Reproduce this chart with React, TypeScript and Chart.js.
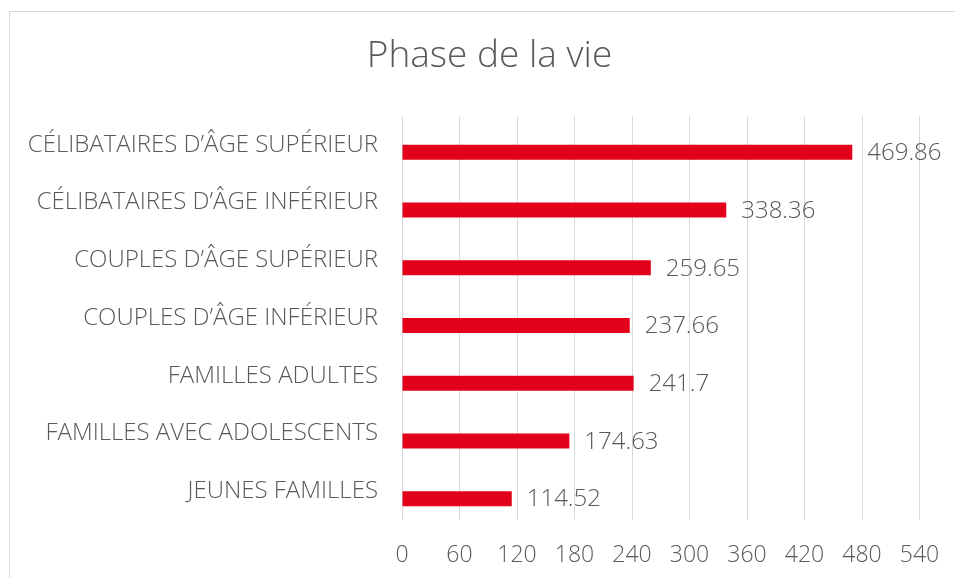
import React, { useEffect, useRef } from "react";
import { Chart, registerables } from "chart.js";

Chart.register(...registerables);

const chartTitle = "Phase de la vie";
const categories = [
  "CÉLIBATAIRES D’ÂGE SUPÉRIEUR",
  "CÉLIBATAIRES D’ÂGE INFÉRIEUR",
  "COUPLES D’ÂGE SUPÉRIEUR",
  "COUPLES D’ÂGE INFÉRIEUR",
  "FAMILLES ADULTES",
  "FAMILLES AVEC ADOLESCENTS",
  "JEUNES FAMILLES",
];
const values = [469.86, 338.36, 259.65, 237.66, 241.7, 174.63, 114.52];
const emptySeries = categories.map(() => null);
const xMin = 0;
const xMax = 540;
const xStep = 60;

const FONT = "'Open Sans', 'DejaVu Sans', sans-serif";
const TEXT = "#595959";
const BAR = "#e2001a";
const GRID = "#d9d9d9";

const framePlugin = {
  id: "frame",
  beforeDraw(chart: any) {
    const ctx = chart.ctx;
    ctx.save();
    ctx.fillStyle = "#ffffff";
    ctx.fillRect(0, 0, chart.width, chart.height);
    ctx.strokeStyle = GRID;
    ctx.lineWidth = 1;
    ctx.strokeRect(9.5, 11.5, 1000, 1000);
    ctx.restore();
  },
  afterDraw(chart: any) {
    const ctx = chart.ctx;
    ctx.save();
    ctx.font = `300 37px ${FONT}`;
    ctx.fillStyle = TEXT;
    ctx.textAlign = "center";
    ctx.textBaseline = "alphabetic";
    ctx.fillText(chartTitle, 489.5, 67);
    ctx.restore();
  },
};

const valueLabelPlugin = {
  id: "valueLabels",
  afterDatasetsDraw(chart: any) {
    const ctx = chart.ctx;
    const meta = chart.getDatasetMeta(1);
    ctx.save();
    ctx.font = `300 24px ${FONT}`;
    ctx.fillStyle = TEXT;
    ctx.textAlign = "left";
    ctx.textBaseline = "middle";
    meta.data.forEach((bar: any, i: number) => {
      const v = chart.data.datasets[1].data[i];
      if (v == null) return;
      ctx.fillText(String(v), bar.x + 15, bar.y + 1);
    });
    ctx.restore();
  },
};

export default function App() {
  const ref = useRef<HTMLCanvasElement | null>(null);
  useEffect(() => {
    if (!ref.current) return;
    const chart = new Chart(ref.current, {
      type: "bar",
      data: {
        labels: categories,
        datasets: [
          { data: emptySeries as any, backgroundColor: "#a5a5a5" },
          { data: values, backgroundColor: BAR, borderColor: BAR, borderWidth: 0 },
        ],
      },
      options: {
        indexAxis: "y",
        responsive: false,
        animation: false,
        devicePixelRatio: 1,
        layout: { padding: { left: 10, right: 35.5, top: 116, bottom: 0 } },
        datasets: { bar: { categoryPercentage: 0.52, barPercentage: 1 } },
        plugins: {
          legend: { display: false },
          tooltip: { enabled: false },
          title: { display: false },
        },
        scales: {
          x: {
            type: "linear",
            min: xMin,
            max: xMax,
            ticks: {
              stepSize: xStep,
              color: TEXT,
              font: { family: FONT, size: 23, weight: "300" as any },
              padding: 22,
            },
            grid: { color: GRID, lineWidth: 1, drawTicks: false },
            border: { display: false },
            afterFit(scale: any) {
              scale.height = 58;
              scale.paddingLeft = 0;
              scale.paddingRight = 0;
            },
          },
          y: {
            type: "category",
            ticks: {
              color: TEXT,
              font: { family: FONT, size: 24, weight: "300" as any },
              padding: 24,
            },
            grid: { display: false, drawTicks: false },
            border: { display: false },
            afterFit(scale: any) {
              scale.width = 402 - 10;
              scale.paddingTop = 0;
              scale.paddingBottom = 0;
            },
          },
        },
      },
      plugins: [framePlugin, valueLabelPlugin],
    });
    return () => chart.destroy();
  }, []);
  return (
    <div style={{ position: "fixed", left: 0, top: 0, width: 955, height: 578 }}>
      <canvas ref={ref} width={955} height={578} style={{ width: 955, height: 578, display: "block" }} />
    </div>
  );
}
